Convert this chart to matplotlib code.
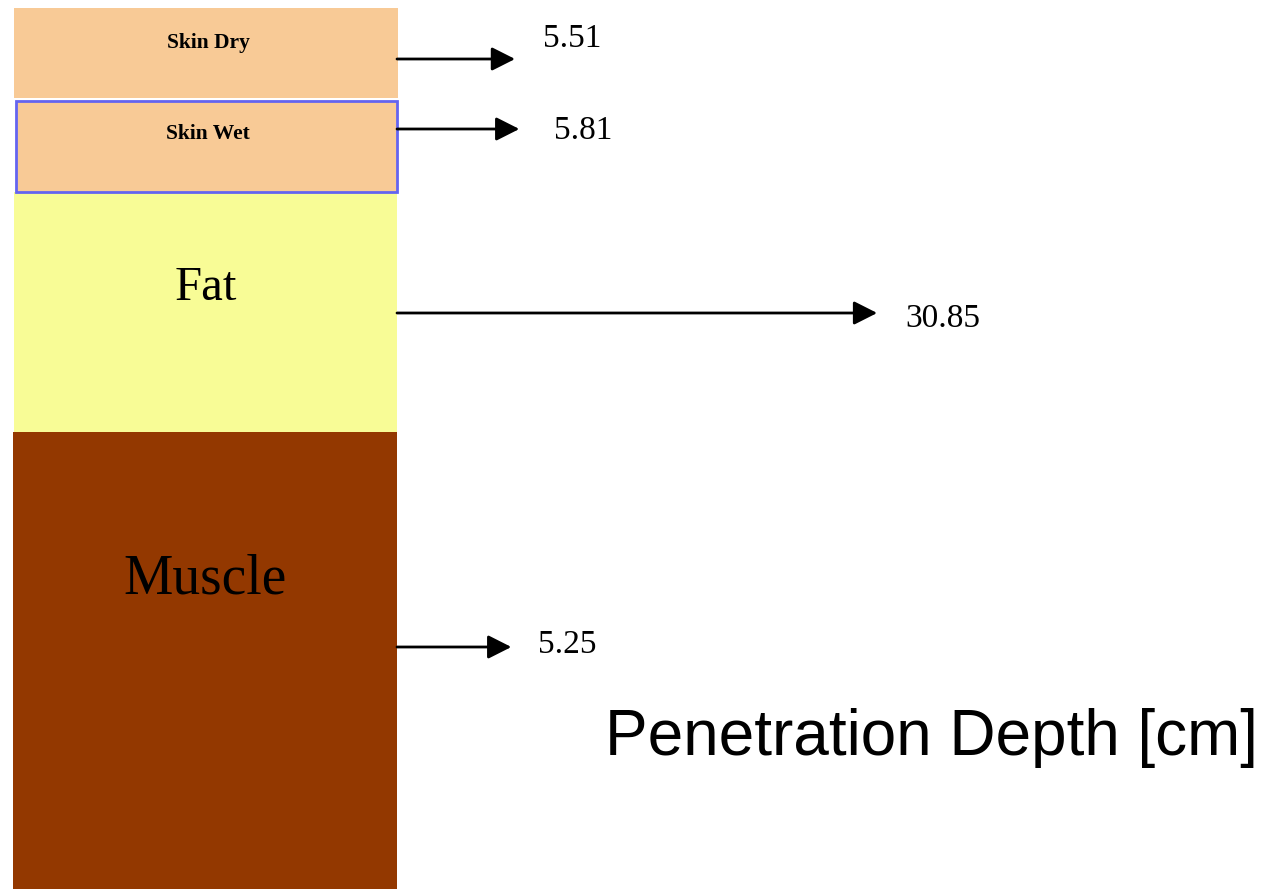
import matplotlib
matplotlib.use("Agg")
import matplotlib.pyplot as plt
from matplotlib.patches import Rectangle, FancyArrowPatch

# ---- data ----
tissues = ["Skin Dry", "Skin Wet", "Fat", "Muscle"]
depths_cm = [5.51, 5.81, 30.85, 5.25]
depth_labels = ["5.51", "5.81", "30.85", "5.25"]
xlabel_text = "Penetration Depth [cm]"

# ---- layout / style (pixel space) ----
W, H = 1269, 889
layers = [  # x0, y0, x1, y1
    (14, 8, 398, 98),
    (16, 101, 397, 192),
    (14, 192, 397, 432),
    (13, 432, 397, 889),
]
fills = ["#F8CA96", "#F8CA96", "#F8FC96", "#933800"]
edges = [None, "#6464F0", None, None]
label_pos = [(208, 43), (208, 134), (206, 288), (205, 580)]
label_size = [15.5, 15.5, 35, 40]
label_weight = ["bold", "bold", "normal", "normal"]
arrow_y = [59, 129, 313, 647]
text_dy = [-20, 2, 6, -2]
text_dx = [28, 35, 28, 27]
arrow_x0 = 397
px_offset, px_per_cm = 39.3, 14.29

fig = plt.figure(figsize=(W / 100, H / 100), dpi=100)
ax = fig.add_axes([0, 0, 1, 1])
ax.set_xlim(0, W)
ax.set_ylim(H, 0)
ax.axis("off")

for (x0, y0, x1, y1), fc, ec in zip(layers, fills, edges):
    ax.add_patch(Rectangle((x0, y0), x1 - x0, y1 - y0, facecolor=fc,
                           edgecolor=ec if ec else "none",
                           linewidth=2 if ec else 0, zorder=2 if ec else 1))

for name, (lx, ly), fs, fw in zip(tissues, label_pos, label_size, label_weight):
    ax.text(lx, ly, name, ha="center", va="center", fontsize=fs,
            fontweight=fw, family="Liberation Serif", color="black", zorder=3)

for val, lab, y, dy, dx in zip(depths_cm, depth_labels, arrow_y, text_dy, text_dx):
    x_end = arrow_x0 + px_offset + px_per_cm * val
    arr = FancyArrowPatch((arrow_x0, y), (x_end, y),
                          arrowstyle="-|>,head_length=0.95,head_width=0.48",
                          mutation_scale=15, linewidth=2, color="black",
                          shrinkA=0, shrinkB=0, zorder=3)
    ax.add_patch(arr)
    ax.text(x_end + dx, y + dy, lab, ha="left", va="center", fontsize=24,
            family="Liberation Serif", color="black")

ax.text(605, 755, xlabel_text, ha="left", va="baseline", fontsize=46,
        family="Liberation Sans", color="black")

fig.savefig("out.png", dpi=100, facecolor="white")
